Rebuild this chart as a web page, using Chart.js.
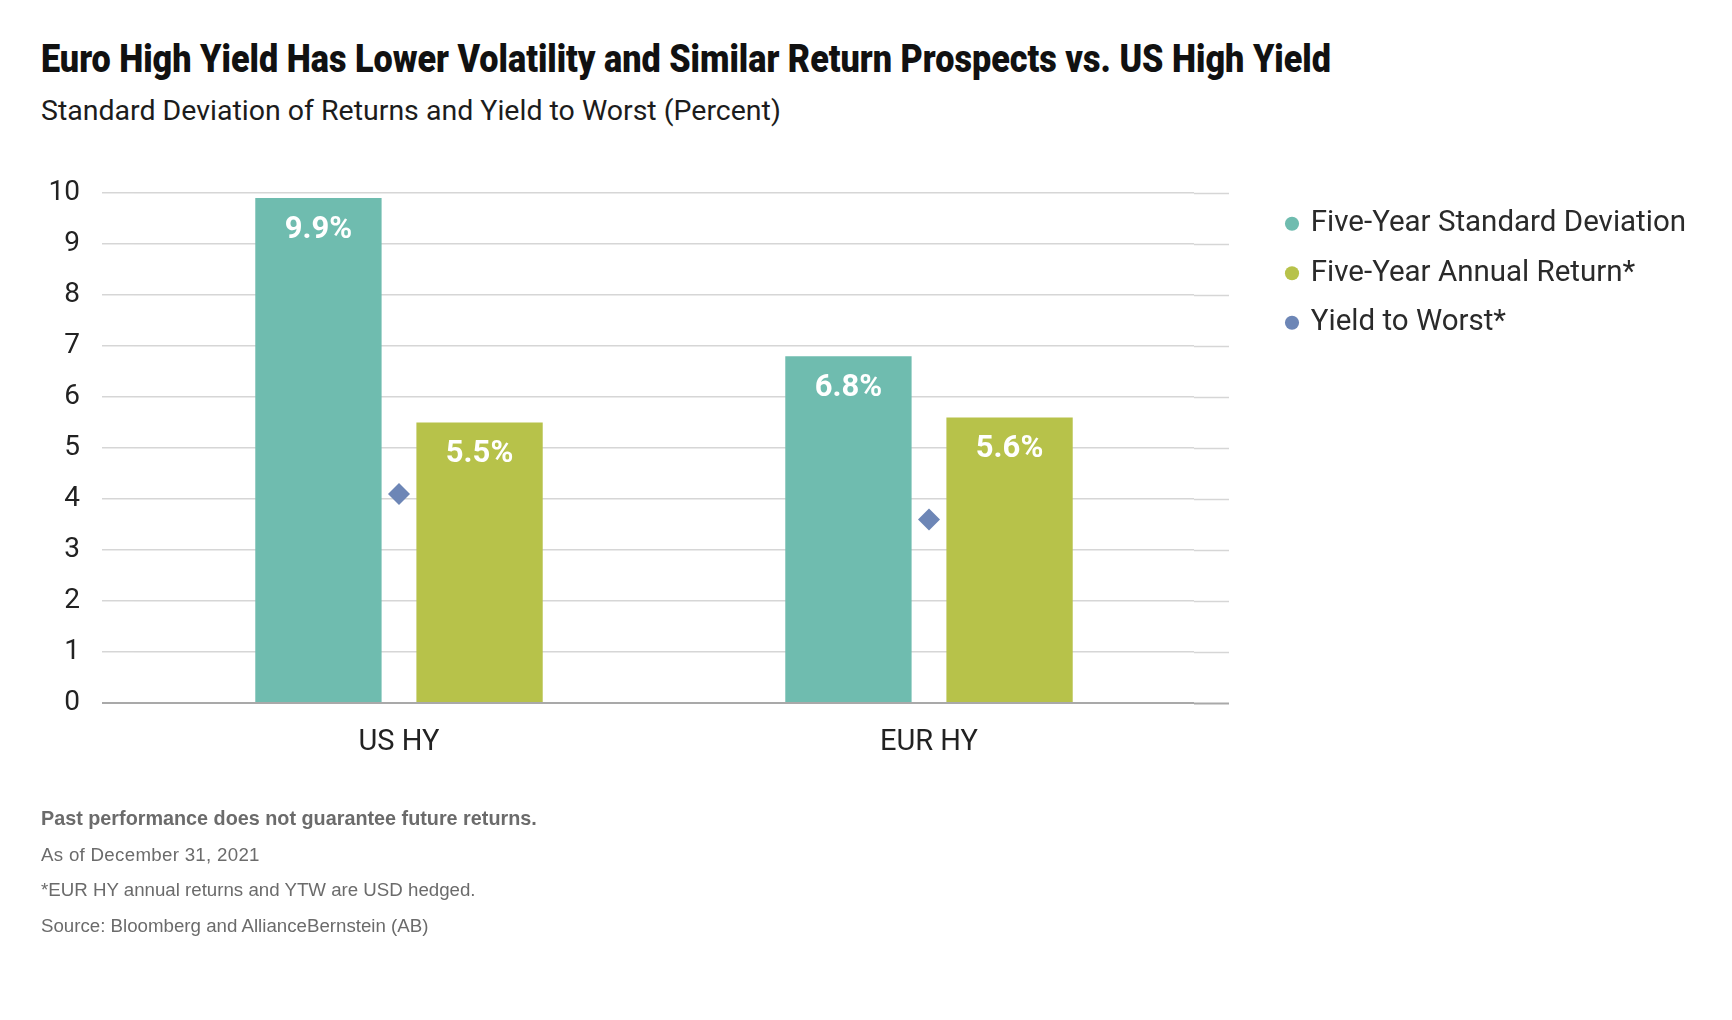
<!DOCTYPE html>
<html>
<head>
<meta charset="utf-8">
<script src="https://cdn.jsdelivr.net/npm/chart.js@4.4.1/dist/chart.umd.min.js"></script>
<style>
  html, body { margin: 0; padding: 0; background: #fff; }
  body { width: 1732px; height: 1020px; position: relative; overflow: hidden; }
  #wrap { position: absolute; left: 0; top: 0; width: 1732px; height: 1020px; }
  .title {
    position: absolute; left: 41px; top: 40px; white-space: nowrap;
    font-family: Roboto, sans-serif; font-weight: 900;
    font-size: 38px; line-height: 1; color: #111; transform-origin: 0 0;
  }
  .subtitle {
    position: absolute; left: 41px; top: 97px; white-space: nowrap;
    font-family: Roboto, sans-serif; font-size: 28.5px; line-height: 1; color: #1c1c1c;
  }
  .notes {
    position: absolute; left: 41px; top: 801px;
    font-family: "Liberation Sans", Arial, sans-serif; font-size: 18.7px;
    line-height: 35.7px; color: #6b6b6b;
  }
  .notes b { font-weight: bold; font-size: 19.8px; }
  .notes .date { letter-spacing: 0.3px; }
</style>
</head>
<body>
<div class="title" id="title">Euro High Yield Has Lower Volatility and Similar Return Prospects vs. US High Yield</div>
<div class="subtitle">Standard Deviation of Returns and Yield to Worst (Percent)</div>
<div id="wrap"><canvas id="chart"></canvas></div>
<div class="notes">
  <b>Past performance does not guarantee future returns.</b><br>
  <span class="date">As of December 31, 2021</span><br>
  *EUR HY annual returns and YTW are USD hedged.<br>
  Source: Bloomberg and AllianceBernstein (AB)
</div>
<script>
// data
const categories = ["US HY", "EUR HY"];
const stdDev = [9.9, 6.8];        // Five-Year Standard Deviation
const annualReturn = [5.5, 5.6];  // Five-Year Annual Return*
const yieldToWorst = [4.1, 3.6];  // Yield to Worst*
const seriesNames = ["Five-Year Standard Deviation", "Five-Year Annual Return*", "Yield to Worst*"];
const yMin = 0, yMax = 10, yStep = 1;

const TEAL = "#6fbcaf";
const OLIVE = "#b7c24a";
const SLATE = "#6d86b6";
const GRID = "#d6d6d6";
const ZERO = "#a9a9a9";
const FONT = "Roboto, 'Noto Sans', sans-serif";

// the title face is condensed in the original, squeeze Roboto to the same width
const titleEl = document.getElementById("title");
titleEl.style.transform = "scaleX(" + (1290 / titleEl.getBoundingClientRect().width) + ")";

// work out how much room the legend needs so the plot keeps its place
const legendFontSize = 29.5;
const mctx = document.createElement("canvas").getContext("2d");
mctx.font = legendFontSize + "px " + FONT;
const legendTextW = Math.max(...seriesNames.map(t => mctx.measureText(t).width));
const legendW = 20 + 8 + legendFontSize / 2 + legendTextW + 10;
const legendLeft = 1268;
const padRight = Math.max(0, 1732 - legendLeft - legendW);

// white value labels near the top of each bar
const barLabels = {
    id: "barLabels",
    afterDatasetsDraw(chart) {
        const ctx = chart.ctx;
        ctx.save();
        ctx.font = "bold 31px " + FONT;
        ctx.fillStyle = "#ffffff";
        ctx.textAlign = "center";
        ctx.textBaseline = "middle";
        chart.data.datasets.forEach(function (ds, i) {
            if (ds.type !== "bar") return;
            chart.getDatasetMeta(i).data.forEach(function (bar, j) {
                ctx.fillText(ds.data[j].toFixed(1) + "%", bar.x, bar.y + 32);
            });
        });
        ctx.restore();
    }
};

const gridColor = c => (c.tick && c.tick.value === 0 ? ZERO : GRID);
const gridWidth = c => (c.tick && c.tick.value === 0 ? 2 : 1.5);

new Chart(document.getElementById("chart"), {
    data: {
        labels: categories,
        datasets: [
            { type: "bar", label: seriesNames[0], data: stdDev, backgroundColor: TEAL, borderWidth: 0 },
            { type: "bar", label: seriesNames[1], data: annualReturn, backgroundColor: OLIVE, borderWidth: 0 },
            {
                type: "line", label: seriesNames[2], data: yieldToWorst,
                showLine: false, pointStyle: "rectRot", pointRadius: 11, pointHoverRadius: 11,
                backgroundColor: SLATE, borderColor: SLATE, pointBorderWidth: 0, borderWidth: 0
            }
        ]
    },
    options: {
        responsive: true,
        maintainAspectRatio: false,
        animation: false,
        events: [],
        datasets: { bar: { categoryPercentage: 0.608, barPercentage: 0.784 } },
        layout: { padding: { left: 0, top: 193, right: padRight, bottom: 257 } },
        scales: {
            x: {
                grid: { display: false, drawTicks: false },
                border: { display: false },
                ticks: { color: "#222", font: { family: FONT, size: 29 }, padding: 22 },
                afterFit: s => { s.height = 60; }
            },
            y: {
                position: "left",
                min: yMin, max: yMax,
                ticks: { stepSize: yStep, color: "#222", font: { family: FONT, size: 28 }, padding: 22 },
                grid: { color: gridColor, lineWidth: gridWidth, tickLength: 32, tickColor: gridColor, tickWidth: gridWidth },
                border: { display: false },
                afterFit: s => { s.width = 134; }
            },
            yRight: {
                position: "right",
                min: yMin, max: yMax,
                ticks: { stepSize: yStep, display: false },
                grid: { drawOnChartArea: false, tickLength: 35, tickColor: gridColor, tickWidth: gridWidth },
                border: { display: false },
                afterFit: s => { s.width = 74; }
            }
        },
        plugins: {
            legend: {
                position: "right",
                align: "start",
                maxWidth: 700,
                title: { display: true, text: "", font: { size: 1, lineHeight: 1 }, padding: { top: -5, bottom: 0 } },
                labels: {
                    usePointStyle: true,
                    pointStyle: "circle",
                    boxWidth: 8,
                    boxHeight: 10,
                    padding: 20,
                    color: "#2a2a2a",
                    font: { family: FONT, size: legendFontSize }
                }
            },
            tooltip: { enabled: false }
        }
    },
    plugins: [barLabels]
});
</script>
</body>
</html>
